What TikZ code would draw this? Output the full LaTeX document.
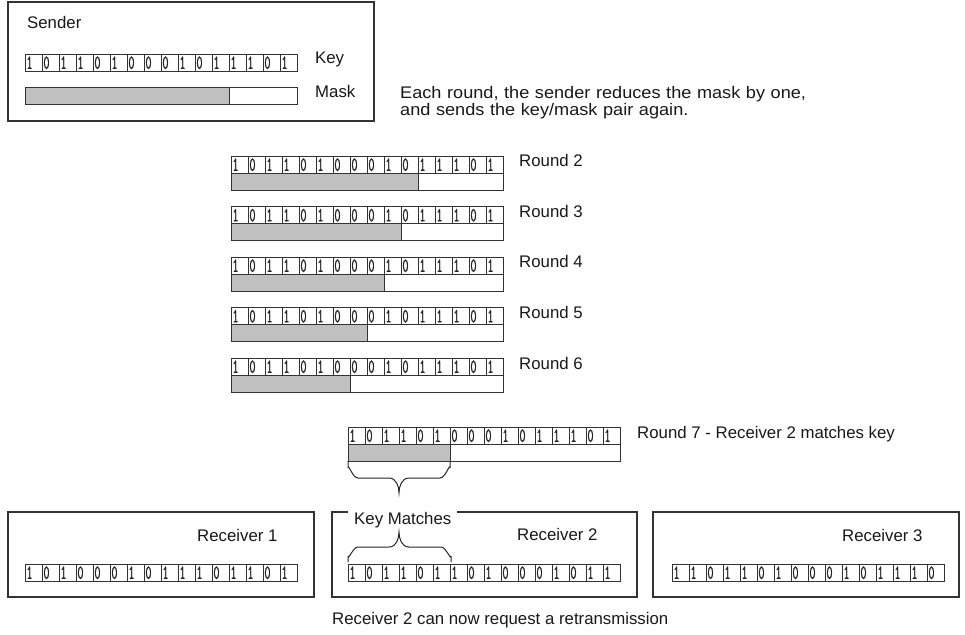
\documentclass[tikz,border=0pt]{standalone}
\usepackage{fontspec}
\setmainfont{Liberation Sans}
\newfontfamily\notefont[FakeStretch=1.08]{Liberation Sans}
\newfontfamily\digitfont[FakeStretch=0.6,FakeBold=0.8]{Latin Modern Mono}
\tikzset{
  frame/.style={draw=black!80, line width=1.1bp},
  cellline/.style={draw=black!80, line width=0.8bp},
  maskfill/.style={fill={rgb,255:red,192;green,192;blue,192}},
  lbl/.style={anchor=base west, inner sep=0, text=black!90, font=\fontsize{16.8bp}{18bp}\selectfont},
  notelbl/.style={anchor=base west, inner sep=0, text=black!90, text width=480bp, align=left,
    font=\notefont\fontsize{16.8bp}{14.5bp}\selectfont},
  digit/.style={anchor=base west, inner sep=0, text=black!85, font=\digitfont\fontsize{20bp}{20bp}\selectfont},
  bracepath/.style={draw=black!85, line width=1bp},
}
\newcommand{\keyrow}[4]{%
  \foreach \b [count=\i from 0] in {#4} {
    \draw[cellline] ({#2+\i*17},#3) rectangle ++(17,17);
    \node[digit] (#1-\i) at ({#2+\i*17+1.2},{#3+14.9}) {\b};
  }}
\newcommand{\maskrow}[3]{%
  \fill[maskfill] (#1,#2) rectangle ++({#3*17},17);
  \draw[cellline] (#1,#2) rectangle ++(272,17);
  \draw[cellline] ({#1+#3*17},#2) -- ++(0,17);
}
\begin{document}
\begin{tikzpicture}[x=1bp,y=-1bp]
\useasboundingbox (0,0) rectangle (965,635);
\fill[white] (0,0) rectangle (965,635);
% Sender
\draw[frame] (8,2) rectangle (374,121);
\node[lbl] (sender) at (27,29) {Sender};
\keyrow{sk}{25}{54}{1,0,1,1,0,1,0,0,0,1,0,1,1,1,0,1}
\maskrow{25}{87}{12}
\node[lbl] (keylbl) at (315,64) {Key};
\node[lbl] (masklbl) at (315,98) {Mask};
\node[notelbl] (note) at (400,98.5) {Each round, the sender reduces the mask by one,\\and sends the key/mask pair again.};
% Rounds
\foreach \r/\yy/\n in {2/156/11,3/206.5/10,4/257/9,5/307.5/8,6/358/7} {
  \keyrow{r\r}{231}{\yy}{1,0,1,1,0,1,0,0,0,1,0,1,1,1,0,1}
  \maskrow{231}{\yy+17}{\n}
  \node[lbl] (rl\r) at (519,\yy+11) {Round \r};
}
\keyrow{r7}{348}{427}{1,0,1,1,0,1,0,0,0,1,0,1,1,1,0,1}
\maskrow{348}{444}{6}
\node[lbl] (rl7) at (637,438) {Round 7 - Receiver 2 matches key};
% brace under round 7
\draw[bracepath] (348,461) -- (348,468) to[out=90,in=180] (358,478) -- (389,478)
  to[out=0,in=90] (399,493) to[out=90,in=180] (409,478) -- (440,478)
  to[out=0,in=90] (450,468) -- (450,461);
% Receivers
\draw[frame] (8,512) rectangle (314,597);
\node[lbl] (rc1) at (197,541) {Receiver 1};
\keyrow{k1}{25}{564}{1,0,1,0,0,0,1,0,1,1,1,0,1,1,0,1}
\draw[frame] (332,512) rectangle (637,597);
\node[lbl, fill=white, inner xsep=6bp, inner ysep=2bp] (km) at (348,524) {Key Matches};
\node[lbl] (rc2) at (517,540) {Receiver 2};
\keyrow{k2}{348}{564}{1,0,1,1,0,1,1,0,1,0,0,0,1,0,1,1}
\draw[bracepath] (348,562) -- (348,556) to[out=-90,in=180] (358,547) -- (389,547)
  to[out=0,in=-90] (399,532) to[out=-90,in=180] (409,547) -- (441,547)
  to[out=0,in=-90] (451,556) -- (451,562);
\draw[frame] (653,512) rectangle (959,597);
\node[lbl] (rc3) at (842,541) {Receiver 3};
\keyrow{k3}{672}{564}{1,1,0,1,1,0,1,0,0,0,1,0,1,1,1,0}
\node[lbl] (bottom) at (332,624) {Receiver 2 can now request a retransmission};
\end{tikzpicture}
\end{document}
